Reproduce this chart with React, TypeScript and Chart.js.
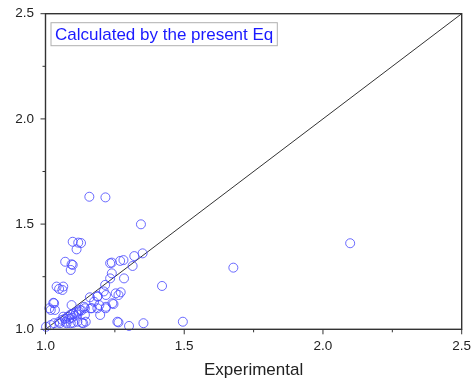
import React, { useEffect, useRef } from "react";
import { Chart, registerables } from "chart.js";

Chart.register(...registerables);

const experimental: number[] = [
  1.158, 1.216, 1.344, 2.098, 1.677, 1.420, 1.495, 1.353, 1.301, 1.263,
  1.098, 1.118, 1.128, 1.112, 1.071, 1.098, 1.091, 1.094,
  1.239, 1.269, 1.281, 1.320, 1.350, 1.314, 1.239, 1.233, 1.283, 1.233,
  1.040, 1.064, 1.061, 1.049,
  1.215, 1.218, 1.263, 1.271, 1.253, 1.188, 1.160, 1.175, 1.241, 1.217, 1.163, 1.139, 1.187, 1.194, 1.218, 1.245, 1.167, 1.142, 1.124, 1.197, 1.142, 1.187, 1.210,
  1.028, 1.031, 1.014, 1.034, 1.019, 1.094, 1.064,
  1.080, 1.090, 1.100, 1.110, 1.085, 1.095, 1.105, 1.120, 1.070, 1.060, 1.115, 1.130,
  1.145, 1.115, 1.091, 1.073, 1.049, 1.031, 1.019, 1.002, 1.052, 1.076, 1.100, 1.131, 1.136, 1.259,
];

const calculated: number[] = [
  1.630, 1.627, 1.499, 1.409, 1.293, 1.206, 1.036, 1.029, 1.016, 1.033,
  1.416, 1.412, 1.410, 1.380, 1.321, 1.306, 1.282, 1.309,
  1.317, 1.325, 1.329, 1.348, 1.361, 1.301, 1.266, 1.242, 1.242, 1.314,
  1.203, 1.203, 1.187, 1.192,
  1.211, 1.163, 1.163, 1.176, 1.171, 1.158, 1.152, 1.131, 1.124, 1.100, 1.100, 1.107, 1.100, 1.115, 1.107, 1.120, 1.100, 1.100, 1.092, 1.068, 1.068, 1.155, 1.180,
  1.126, 1.124, 1.100, 1.092, 1.092, 1.115, 1.060,
  1.060, 1.070, 1.075, 1.080, 1.050, 1.055, 1.065, 1.085, 1.050, 1.045, 1.070, 1.090,
  1.036, 1.036, 1.029, 1.036, 1.036, 1.029, 1.020, 1.012, 1.029, 1.029, 1.031, 1.031, 1.029, 1.036,
];

const diagonalX: number[] = [1.0, 2.5];
const diagonalY: number[] = [1.0, 2.5];

const axisMin = 1.0;
const axisMax = 2.5;
const majorStep = 0.5;
const minorStep = 0.25;

const legendText = "Calculated by the present Eq";
const xTitle = "Experimental";

const FONT = "'Liberation Sans', Arial, sans-serif";

const framePlugin = {
  id: "frameTicks",
  afterDraw(chart: any) {
    const { ctx, chartArea, scales } = chart;
    const { left, right, top, bottom } = chartArea;
    ctx.save();
    ctx.strokeStyle = "#333333";
    ctx.lineWidth = 1.4;
    ctx.strokeRect(left, top, right - left, bottom - top);
    ctx.lineWidth = 1;
    const n = Math.round((axisMax - axisMin) / minorStep);
    for (let i = 0; i <= n; i++) {
      const v = axisMin + i * minorStep;
      const major = Math.abs(v / majorStep - Math.round(v / majorStep)) < 1e-6;
      const len = major ? 5 : 3;
      const px = scales.x.getPixelForValue(v);
      const py = scales.y.getPixelForValue(v);
      ctx.beginPath();
      ctx.moveTo(px, bottom);
      ctx.lineTo(px, bottom + len);
      ctx.moveTo(left, py);
      ctx.lineTo(left - len, py);
      ctx.stroke();
    }
    ctx.font = `17px ${FONT}`;
    const tw = ctx.measureText(legendText).width;
    const bx = left + 5.5;
    const by = top + 9;
    ctx.strokeStyle = "#b0b0b0";
    ctx.lineWidth = 1;
    ctx.strokeRect(bx, by, tw + 8, 23);
    ctx.fillStyle = "#1a1aff";
    ctx.textBaseline = "alphabetic";
    ctx.textAlign = "left";
    ctx.fillText(legendText, bx + 4, by + 17.5);
    ctx.restore();
  },
};

export default function App() {
  const ref = useRef<HTMLCanvasElement | null>(null);

  useEffect(() => {
    if (!ref.current) return;
    const points = experimental.map((x, i) => ({ x, y: calculated[i] }));
    const diag = diagonalX.map((x, i) => ({ x, y: diagonalY[i] }));
    const chart = new Chart(ref.current, {
      type: "scatter",
      data: {
        datasets: [
          {
            label: "diag",
            data: diag,
            showLine: true,
            borderColor: "#333333",
            borderWidth: 1,
            pointRadius: 0,
            order: 2,
          } as any,
          {
            label: legendText,
            data: points,
            pointRadius: 4.5,
            pointBorderWidth: 1,
            borderColor: "rgba(70,70,255,0.8)",
            backgroundColor: "rgba(0,0,0,0)",
            pointBackgroundColor: "rgba(0,0,0,0)",
            pointBorderColor: "rgba(70,70,255,0.8)",
            clip: false,
            order: 1,
          } as any,
        ],
      },
      options: {
        animation: false,
        responsive: false,
        layout: { padding: { left: 0, top: 13.7, right: 13.3, bottom: 0 } },
        plugins: {
          legend: { display: false },
          tooltip: { enabled: false },
        },
        scales: {
          x: {
            type: "linear",
            min: axisMin,
            max: axisMax,
            grid: { display: false, drawTicks: false },
            border: { display: false },
            ticks: {
              stepSize: majorStep,
              padding: 9,
              color: "#222",
              font: { family: FONT, size: 13.5 },
              maxRotation: 0,
              callback: (v: any) => Number(v).toFixed(1),
            },
            title: {
              display: true,
              text: xTitle,
              color: "#222",
              font: { family: FONT, size: 17 },
              padding: { top: 0, bottom: 0 },
            },
            afterFit: (s: any) => {
              s.height = 51.7;
              s.paddingLeft = 0;
              s.paddingRight = 0;
              s.paddingTop = 0;
              s.paddingBottom = 0;
            },
          },
          y: {
            type: "linear",
            min: axisMin,
            max: axisMax,
            grid: { display: false, drawTicks: false },
            border: { display: false },
            ticks: {
              stepSize: majorStep,
              padding: 11.5,
              color: "#222",
              font: { family: FONT, size: 13.5 },
              callback: (v: any) => Number(v).toFixed(1),
            },
            afterFit: (s: any) => {
              s.width = 45.5;
              s.paddingLeft = 0;
              s.paddingRight = 0;
              s.paddingTop = 0;
              s.paddingBottom = 0;
            },
          },
        },
      },
      plugins: [framePlugin],
    });
    return () => chart.destroy();
  }, []);

  return (
    <div style={{ position: "absolute", left: 0, top: 0, width: 475, height: 381, background: "#fff" }}>
      <canvas ref={ref} width={475} height={381} style={{ display: "block" }} />
    </div>
  );
}
